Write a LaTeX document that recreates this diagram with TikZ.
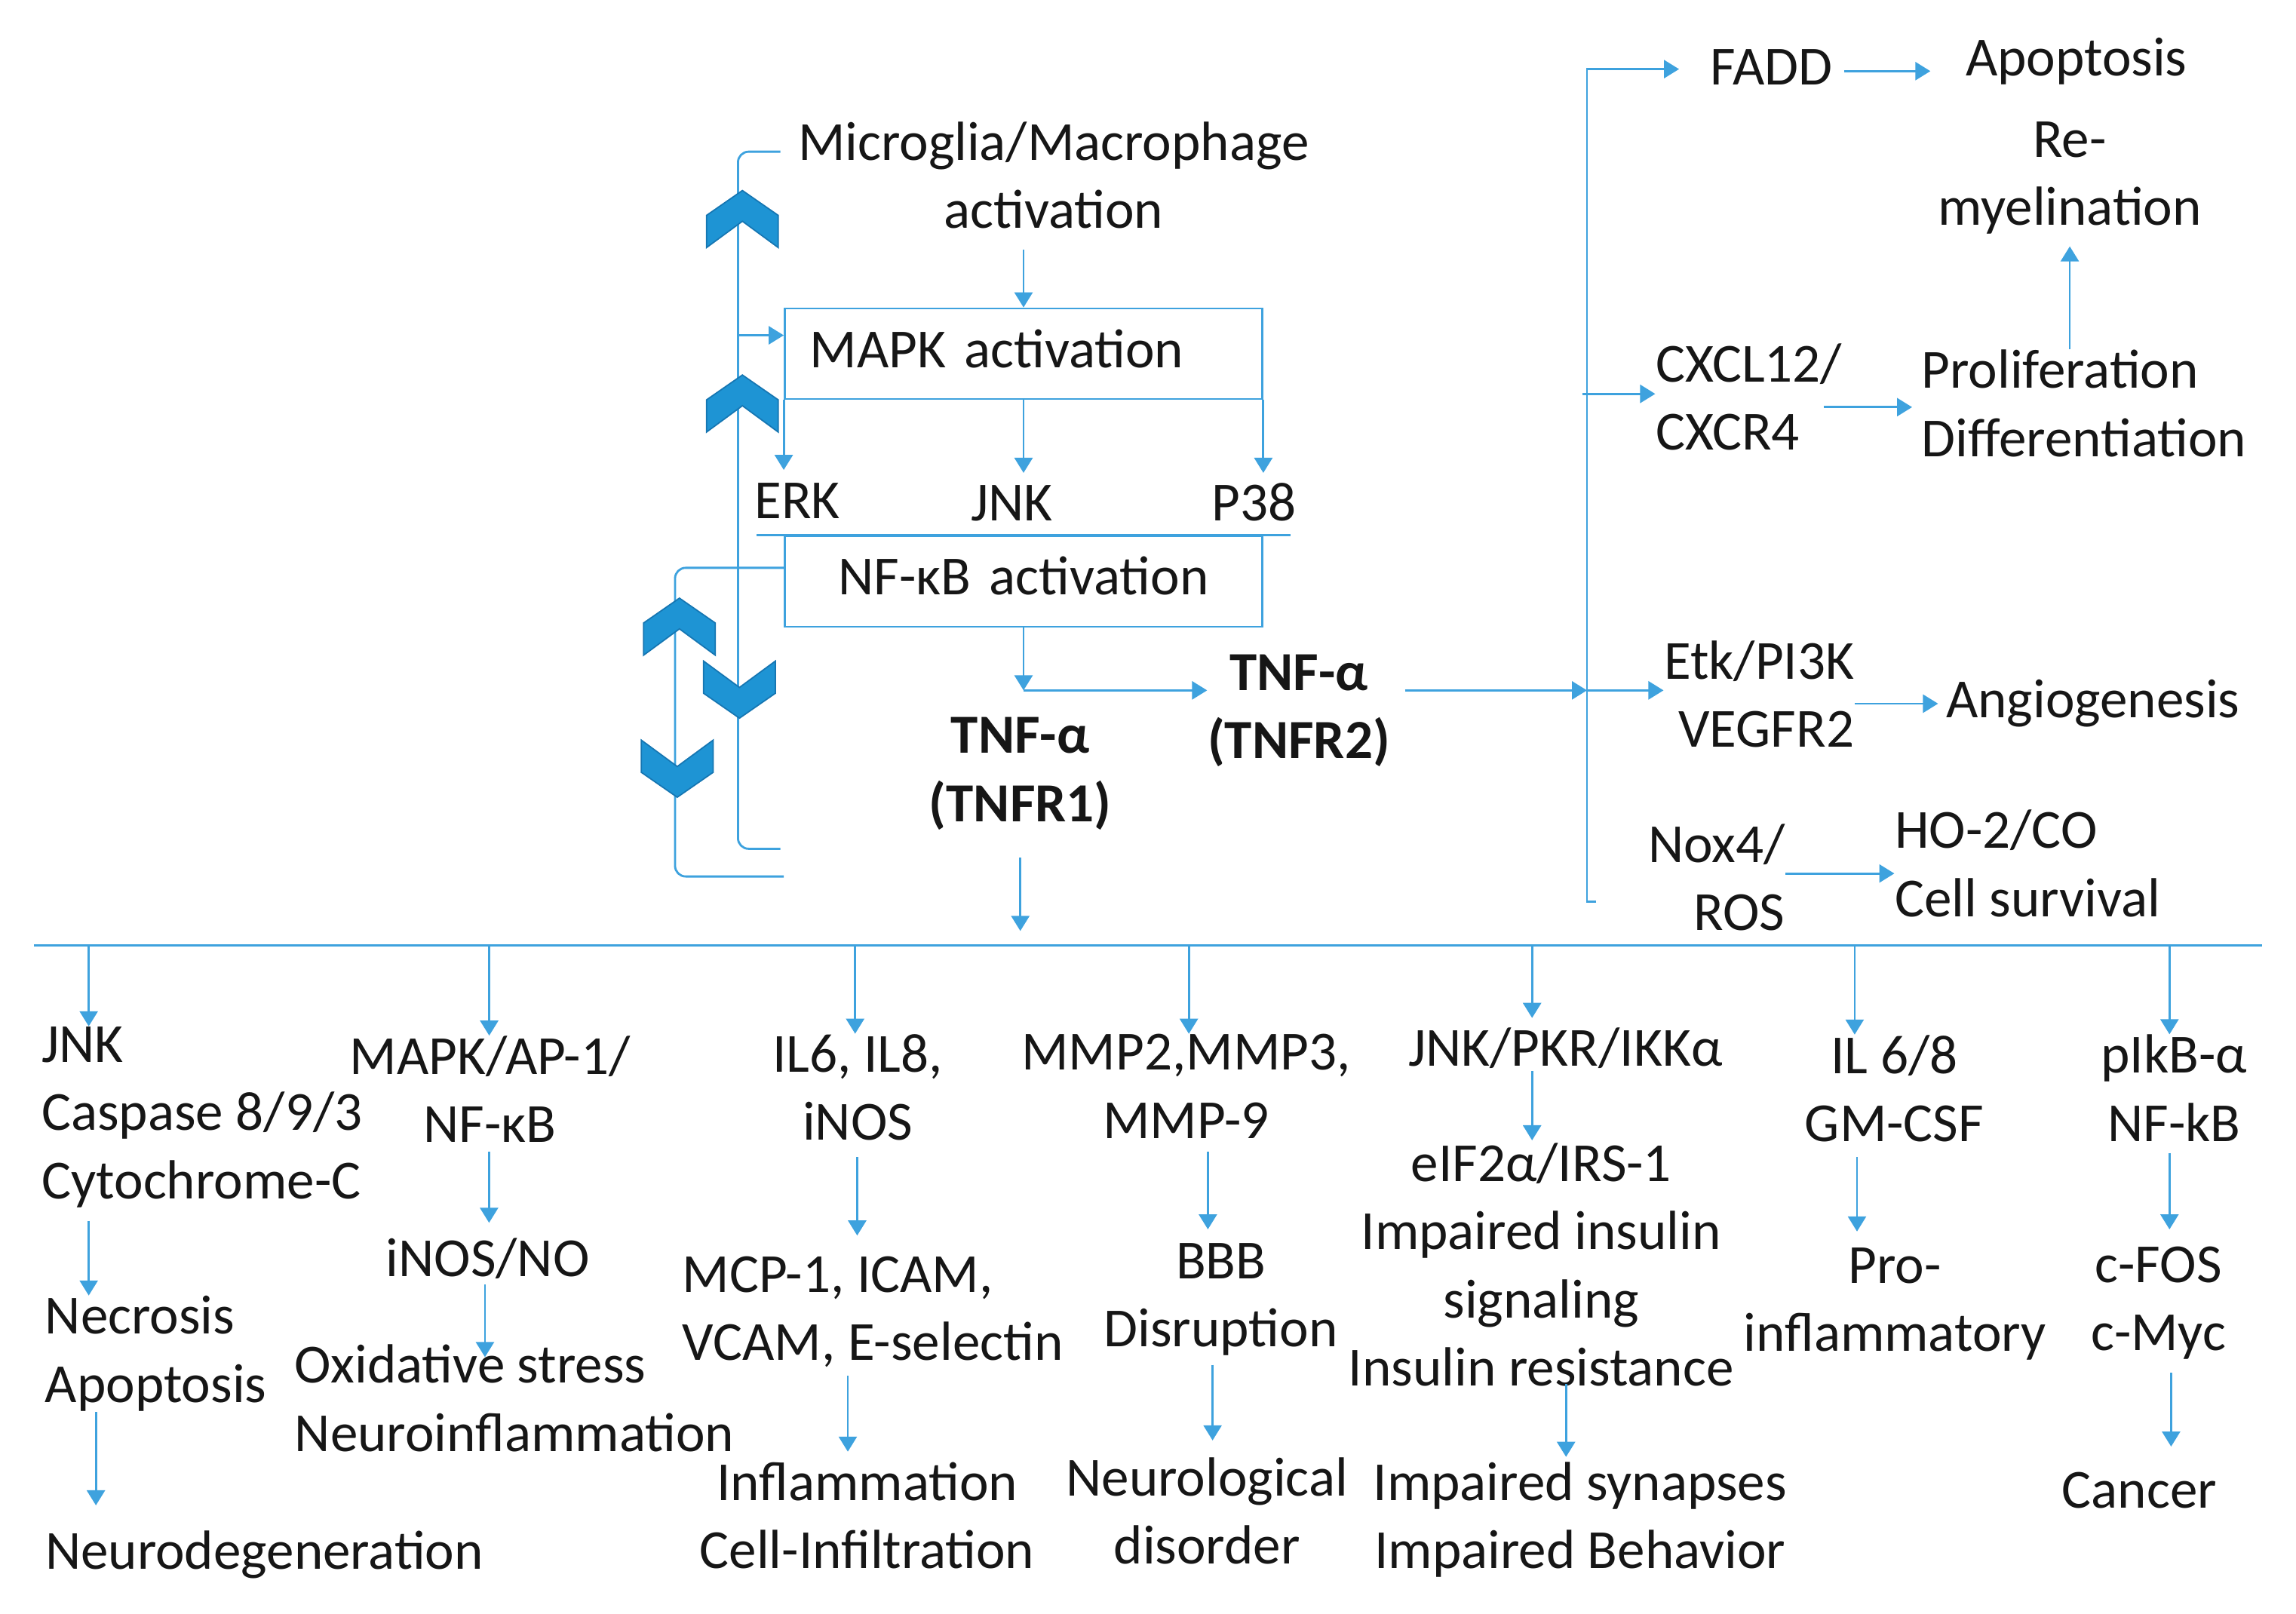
\documentclass[tikz,border=0pt]{standalone}
\usepackage{fontspec}
\setmainfont{Carlito}
\usepackage{tikz}
\usetikzlibrary{arrows.meta}

\definecolor{flow}{RGB}{62,162,222}
\definecolor{chevfill}{RGB}{30,148,212}
\definecolor{chevedge}{RGB}{22,118,178}
\definecolor{ink}{RGB}{22,22,22}

\begin{document}
\begin{tikzpicture}[x=0.19413mm, y=-0.19413mm,
  base/.style={font=\fontsize{20.8}{25.7}\selectfont, text=ink, inner sep=0pt, align=center,
    execute at begin node=\strut, execute at end node=\strut},
  txt/.style={base, yshift=-0.5mm},
  ltxt/.style={txt, align=left, anchor=west},
  rtxt/.style={txt, align=right, anchor=east},
  btxt/.style={txt, font=\fontsize{20.8}{25.7}\selectfont\bfseries},
  box/.style={base, draw=flow, line width=0.8pt, inner xsep=3.3mm, inner ysep=0pt,
    text width=56.7mm, minimum height=12mm},
  lnk/.style={draw=flow, line width=0.8pt},
  arr/.style={lnk, -{Triangle[length=2mm, width=2.4mm]}},
  chev/.style={fill=chevfill, draw=chevedge, line width=0.5pt}
]
  \useasboundingbox (0,0) rectangle (1568,1102);

  % Centre column
  \node[txt] (mg) at (719.5,124) {Microglia/Macrophage\\activation};
  \node[box, align=left] (mapk) at (699,241.6) {MAPK activation};
  \node[txt] (erk) at (544.6,342) {ERK};
  \node[txt] (jnk) at (690.9,344) {JNK};
  \node[txt] (p38) at (856.2,344) {P38};
  \node[box] (nfkb) at (699,397.1) {NF-κB activation};
  \node[btxt] (tnfa) at (696.8,530) {TNF-α\\(TNFR1)};
  \node[btxt] (tnfb) at (887,487) {TNF-α\\(TNFR2)};

  % TNFR2 branch
  \node[txt] (fadd) at (1209.8,46) {FADD};
  \node[txt] (apop) at (1418,40) {Apoptosis};
  \node[txt] (remy) at (1413.5,123) {Re-\\myelination};
  \node[ltxt] (cxcl) at (1130.4,275.5) {CXCL12/\\CXCR4};
  \node[ltxt] (prolif) at (1312,279.8) {Proliferation\\Differentiation};
  \node[rtxt] (etk) at (1266.6,478.4) {Etk/PI3K\\VEGFR2};
  \node[ltxt] (angio) at (1328.7,478) {Angiogenesis};
  \node[rtxt] (nox) at (1219.3,603.6) {Nox4/\\ROS};
  \node[ltxt] (ho) at (1293.7,594) {HO-2/CO\\Cell survival};

  % TNFR1 outcomes
  \node[ltxt] (c1a) at (28.1,764.3) {JNK\\Caspase 8/9/3\\Cytochrome-C};
  \node[ltxt] (c1b) at (30.5,925.8) {Necrosis\\Apoptosis};
  \node[ltxt] (c1c) at (30.6,1060) {Neurodegeneration};
  \node[txt] (c2a) at (334.6,748.4) {MAPK/AP-1/\\NF-κB};
  \node[txt] (c2b) at (333.1,859.8) {iNOS/NO};
  \node[ltxt] (c2c) at (201,959.2) {Oxidative stress\\Neuroinflammation};
  \node[txt] (c3a) at (585.7,746.9) {IL6, IL8,\\iNOS};
  \node[ltxt] (c3b) at (465.7,898) {MCP-1, ICAM,\\VCAM, E-selectin};
  \node[txt] (c3c) at (592.2,1039.2) {Inflammation\\Cell-Infiltration};
  \node[txt] (c4a) at (810,746.3) {MMP2,MMP3,\\MMP-9};
  \node[txt] (c4b) at (833.8,889) {BBB\\Disruption};
  \node[txt] (c4c) at (824.3,1036.2) {Neurological\\disorder};
  \node[txt] (c5a) at (1069,716.3) {JNK/PKR/IKKα};
  \node[txt] (c5b) at (1052.5,868) {eIF2α/IRS-1\\Impaired insulin\\signaling\\Insulin resistance};
  \node[txt] (c5c) at (1079,1039.2) {Impaired synapses\\Impaired Behavior};
  \node[txt] (c6a) at (1293.7,747.7) {IL 6/8\\GM-CSF};
  \node[txt] (c6b) at (1294,892) {Pro-\\inflammatory};
  \node[txt] (c7a) at (1484.7,747.5) {pIkB-α\\NF-kB};
  \node[txt] (c7b) at (1474,891.2) {c-FOS\\c-Myc};
  \node[txt] (c7c) at (1461,1018.3) {Cancer};

  \coordinate (split) at (699,471.5);
  \coordinate (rtop) at (1083.8,47.2);
  \coordinate (rbot) at (1090,616);
  \coordinate (rcx) at (1080.5,269);
  \coordinate (l1) at (504,103.6);
  \coordinate (l1a) at (504,229);
  \coordinate (l1b) at (504,579.7);
  \coordinate (l2) at (461,387.8);
  \coordinate (l2b) at (461,598.6);
  \coordinate (busL) at (23.2,645.6);
  \coordinate (busR) at (1544.8,645.6);

  % Activation cascade
  \draw[arr] (mapk.north |- mg.south) -- (mapk.north);
  \draw[arr] (mapk.south west) -- (mapk.south west |- erk.north);
  \draw[arr] (mapk.south) -- (mapk.south |- jnk.north);
  \draw[arr] (mapk.south east) -- (mapk.south east |- p38.north);
  \draw[lnk] ([xshift=-3.6mm]nfkb.north west) -- ([xshift=3.6mm]nfkb.north east);
  \draw[arr] (nfkb.south) -- (split);
  \draw[arr] (split) -- (split -| tnfb.west);
  \draw[arr, shorten <=2mm, shorten >=1.9mm] (tnfa.south) -- (tnfa.south |- busL);

  % Feedback brackets
  \draw[lnk, rounded corners=4pt] (533,103.6) -- (l1) -- (l1b) -- (533,579.7);
  \draw[arr] (l1a) -- (l1a -| mapk.west);
  \draw[lnk, rounded corners=4pt] (l2 -| nfkb.west) -- (l2) -- (l2b) -- (l2b -| nfkb.west);
  \foreach \cx/\cy/\dir in {507/149.6/1, 507/275.6/1, 505/471/-1, 464/428/1, 462.5/525/-1}
    \filldraw[chev, shift={(\cx,\cy)}, yscale=\dir]
      (0,-19.5) -- (24.5,-2.5) -- (24.5,19.5) -- (0,1.5) -- (-24.5,19.5) -- (-24.5,-2.5) -- cycle;

  % TNFR2 signalling
  \draw[arr, shorten <=1.9mm] (tnfb.east |- split) -- (rtop |- split);
  \draw[arr, shorten >=4.1mm] (rbot) -- (rbot -| rtop) -- (rtop) -- (rtop -| fadd.west);
  \draw[arr] (rtop |- split) -- (split -| etk.west);
  \draw[arr] (rcx) -- (rcx -| cxcl.west);
  \draw[arr, shorten <=1.5mm, shorten >=4.6mm] (fadd.east) -- (fadd.east -| apop.west);
  \draw[arr] (remy.south |- prolif.north) -- (remy.south);
  \draw[arr, shorten >=1.2mm] ([xshift=-2.5mm]cxcl.east) -- (prolif.west |- cxcl.east);
  \draw[arr, shorten >=1mm] (etk.east |- angio.west) -- (angio.west);
  \draw[arr] (nox.east |- ho.west) -- (ho.west);

  % TNFR1 signalling
  \draw[lnk] (busL) -- (busR);
  \foreach \col/\ax in {c1a/60.6, c2a/334.1, c3a/584, c4a/811.9, c5a/1046.3, c6a/1266.6, c7a/1481.6}
    \draw[arr] (busL -| \ax,0) -- (\col.north -| \ax,0);
  \foreach \from/\to/\ax/\s/\e in {
      c1a/c1b/60.6/0.2mm/0mm, c1b/c1c/65.5/-1.5mm/2.1mm,
      c2a/c2b/334/-1.6mm/0.7mm, c2b/c2c/331.2/-1.7mm/-1.7mm,
      c3a/c3b/585.4/-0.5mm/2.7mm, c3b/c3c/579/-0.7mm/1.3mm,
      c4a/c4b/824.9/-1mm/1.8mm, c4b/c4c/828.1/-0.4mm/2.2mm,
      c5a/c5b/1046.3/-2.1mm/0.3mm, c5b/c5c/1069.5/-3mm/0.6mm,
      c6a/c6b/1268.2/-0.7mm/2.1mm,
      c7a/c7b/1481.6/-1.2mm/2.2mm, c7b/c7c/1482.7/0.2mm/1.8mm}
    \draw[arr, shorten <=\s, shorten >=\e] (\from.south -| \ax,0) -- (\to.north -| \ax,0);
\end{tikzpicture}
\end{document}
